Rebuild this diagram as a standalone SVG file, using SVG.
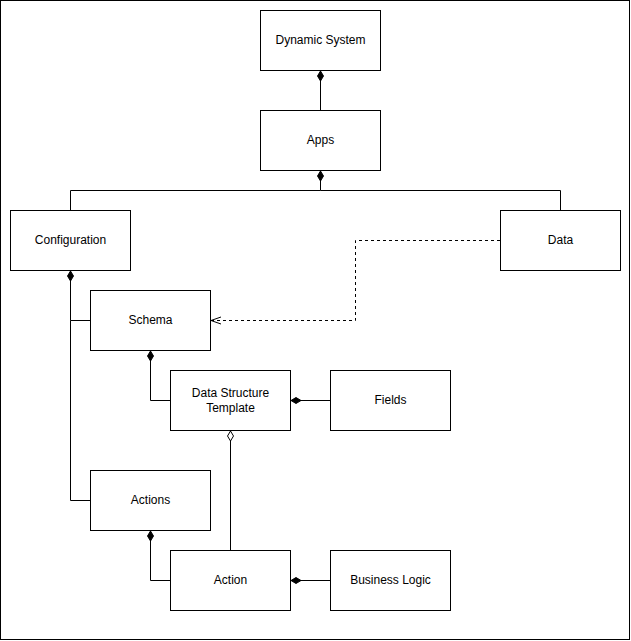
<svg xmlns="http://www.w3.org/2000/svg" width="631" height="641" viewBox="0 0 631 641">
<style>
.n{fill:#fff;stroke:#000;stroke-width:1}
.t{font-family:"Liberation Sans",Arial,sans-serif;font-size:12px;fill:#000;text-anchor:middle;dominant-baseline:central}
.c{fill:none;stroke:#000;stroke-width:1}
.d{fill:none;stroke:#000;stroke-width:1;stroke-dasharray:3 3}
</style>
<defs>
<marker id="fd" viewBox="0 0 14 8" refX="0" refY="4" markerWidth="14" markerHeight="8" markerUnits="userSpaceOnUse" orient="auto">
<path d="M0,4 L5,1 L10,4 L5,7 Z" fill="#000" stroke="#000"/>
</marker>
<marker id="od" viewBox="0 0 14 8" refX="0" refY="4" markerWidth="14" markerHeight="8" markerUnits="userSpaceOnUse" orient="auto">
<path d="M0,4 L5,1 L10,4 L5,7 Z" fill="#fff" stroke="#000"/>
</marker>
<marker id="oa" viewBox="0 0 10 10" refX="10" refY="5" markerWidth="10" markerHeight="10" markerUnits="userSpaceOnUse" orient="auto">
<path d="M0,1.5 L10,5 L0,8.5" fill="none" stroke="#000"/>
</marker>
</defs>
<rect x="0.5" y="0.5" width="629" height="639" fill="#fff" stroke="#000"/>
<g id="nodes">
<g id="dynamic-system"><rect class="n" x="260.5" y="10.5" width="120" height="60"/><text class="t" x="320.5" y="40">Dynamic System</text></g>
<g id="apps"><rect class="n" x="260.5" y="110.5" width="120" height="60"/><text class="t" x="320.5" y="140">Apps</text></g>
<g id="configuration"><rect class="n" x="10.5" y="210.5" width="120" height="60"/><text class="t" x="70.5" y="240">Configuration</text></g>
<g id="data"><rect class="n" x="500.5" y="210.5" width="120" height="60"/><text class="t" x="560.5" y="240">Data</text></g>
<g id="schema"><rect class="n" x="90.5" y="290.5" width="120" height="60"/><text class="t" x="150.5" y="320">Schema</text></g>
<g id="data-structure-template"><rect class="n" x="170.5" y="370.5" width="120" height="60"/><text class="t" x="230.5" y="392.5">Data Structure</text><text class="t" x="230.5" y="407.5">Template</text></g>
<g id="fields"><rect class="n" x="330.5" y="370.5" width="120" height="60"/><text class="t" x="390.5" y="400">Fields</text></g>
<g id="actions"><rect class="n" x="90.5" y="470.5" width="120" height="60"/><text class="t" x="150.5" y="500">Actions</text></g>
<g id="action"><rect class="n" x="170.5" y="550.5" width="120" height="60"/><text class="t" x="230.5" y="580">Action</text></g>
<g id="business-logic"><rect class="n" x="330.5" y="550.5" width="120" height="60"/><text class="t" x="390.5" y="580">Business Logic</text></g>
</g>
<g id="connectors">
<path class="c" d="M320.5,71 L320.5,110" marker-start="url(#fd)"/>
<path class="c" d="M320.5,171 L320.5,190.5 L70.5,190.5 L70.5,210" marker-start="url(#fd)"/>
<path class="c" d="M320.5,190.5 L560.5,190.5 L560.5,210"/>
<path class="d" d="M500,240.5 L355.5,240.5 L355.5,320.5 L211,320.5" marker-end="url(#oa)"/>
<path class="c" d="M70.5,271 L70.5,320.5 L90,320.5" marker-start="url(#fd)"/>
<path class="c" d="M70.5,320.5 L70.5,500.5 L90,500.5"/>
<path class="c" d="M150.5,351 L150.5,400.5 L170,400.5" marker-start="url(#fd)"/>
<path class="c" d="M291,400.5 L330,400.5" marker-start="url(#fd)"/>
<path class="c" d="M230.5,431 L230.5,550" marker-start="url(#od)"/>
<path class="c" d="M150.5,531 L150.5,580.5 L170,580.5" marker-start="url(#fd)"/>
<path class="c" d="M291,580.5 L330,580.5" marker-start="url(#fd)"/>
</g>
</svg>
